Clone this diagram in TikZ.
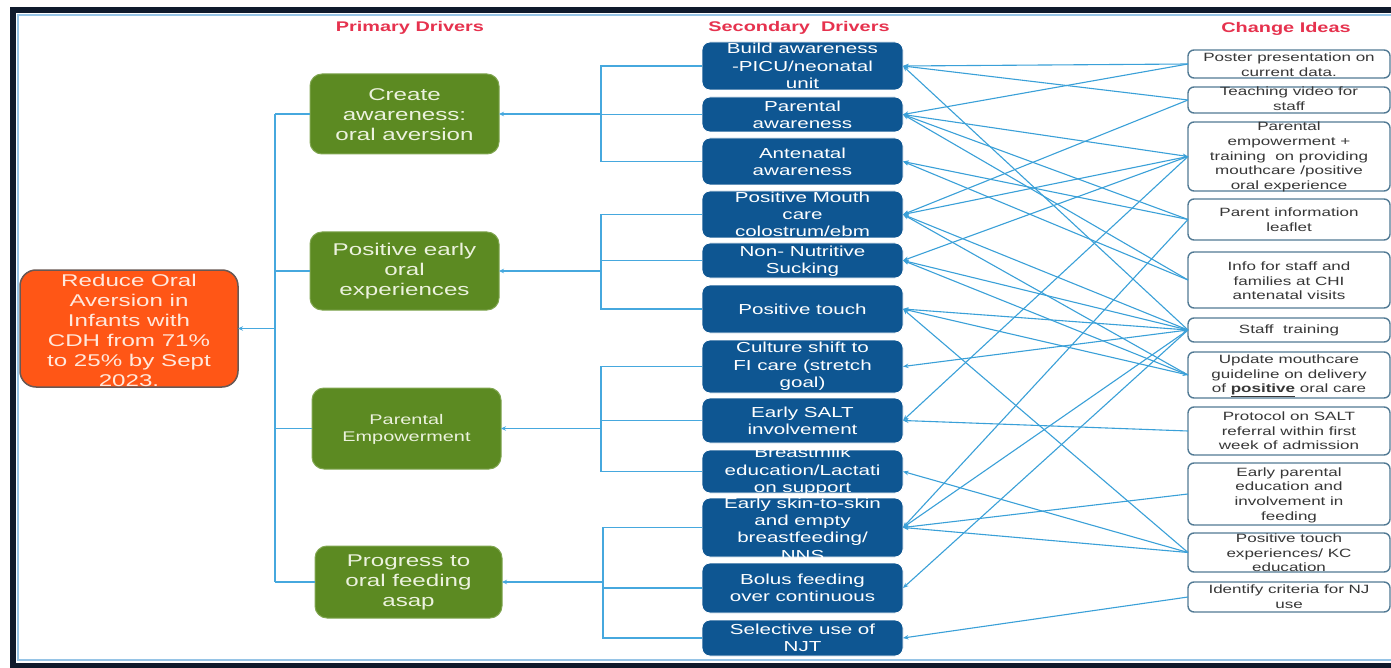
\documentclass[tikz,border=0pt]{standalone}
\usepackage{fontspec}
\setmainfont{Liberation Sans}[FakeStretch=1.42]
\usetikzlibrary{arrows.meta}
\definecolor{lnk}{RGB}{58,160,216}
\definecolor{busc}{RGB}{70,168,222}
\definecolor{secfill}{RGB}{14,86,146}
\definecolor{prifill}{RGB}{92,138,34}
\definecolor{priline}{RGB}{128,166,80}
\definecolor{goalfill}{RGB}{255,86,22}
\definecolor{goalline}{RGB}{105,88,84}
\definecolor{chgline}{RGB}{82,122,148}
\definecolor{chgtext}{RGB}{55,55,55}
\definecolor{hdr}{RGB}{230,50,78}
\definecolor{framec}{RGB}{15,26,44}
\definecolor{framein}{RGB}{150,196,230}
\definecolor{pritext}{RGB}{236,242,222}
\definecolor{goaltext}{RGB}{255,232,220}
\tikzset{
  goalbox/.style={draw=goalline, fill=goalfill, line width=1.5pt, rounded corners=16pt, inner sep=0pt, outer sep=0pt},
  pribox/.style={draw=priline, fill=prifill, line width=1pt, rounded corners=12pt, inner sep=0pt, outer sep=0pt},
  secbox/.style={draw=white, fill=secfill, line width=0.8pt, rounded corners=8pt, inner sep=0pt, outer sep=0pt, minimum width=201pt},
  chgbox/.style={draw=chgline, fill=white, line width=1.4pt, rounded corners=6pt, inner sep=0pt, outer sep=0pt, minimum width=202pt},
  goaltxt/.style={align=center, inner sep=0pt, text=goaltext, font=\fontsize{17}{20}\selectfont},
  pritxt/.style={align=center, inner sep=0pt, text=pritext, font=\fontsize{17}{20}\selectfont},
  sectxt/.style={align=center, inner sep=0pt, text=white, font=\fontsize{14.5}{17.3}\selectfont},
  chgtxt/.style={align=center, inner sep=0pt, text=chgtext, font=\fontsize{12}{14.6}\selectfont},
  hdrtxt/.style={inner sep=0pt, text=hdr, font=\fontsize{14}{16}\selectfont\bfseries},
  bus/.style={draw=busc, line width=1.2pt},
  busarrow/.style={draw=busc, line width=1.2pt, -{Stealth[length=5pt,width=4.5pt]}},
  link/.style={draw=lnk, line width=1.1pt, -{Stealth[length=5.5pt,width=4.5pt]}},
  linkboth/.style={draw=lnk, line width=1.1pt, {Stealth[length=5.5pt,width=4.5pt]}-{Stealth[length=5.5pt,width=4.5pt]}},
}
\begin{document}
\begin{tikzpicture}[x=1pt, y=-1pt]
\useasboundingbox (0,0) rectangle (1391,668);
\fill[white] (0,0) rectangle (1391,668);
% frame
\draw[framein, line width=1.5pt] (1395,15) -- (18,15) -- (18,660) -- (1395,660);
\draw[framec, line width=6pt] (1395,10) -- (13,10) -- (13,666) -- (1395,666);

% headers
\node[hdrtxt] (h1) at (410,28) {Primary Drivers};
\node[hdrtxt] (h2) at (799,28) {Secondary\ \ Drivers};
\node[hdrtxt] (h3) at (1286,29) {Change Ideas};

% goal
\node[goalbox, minimum width=218pt, minimum height=117pt] (goal) at (129,328.5) {};
\node[goaltxt] (goalt) at (129,330) {Reduce Oral\\Aversion in\\Infants with\\CDH from 71\%\\to 25\% by Sept\\2023.};

% primary drivers
\node[pribox, minimum width=189pt, minimum height=80pt] (p1) at (404.5,114) {};
\node[pritxt] (p1t) at (404.5,115) {Create\\awareness:\\oral aversion};
\node[pribox, minimum width=189pt, minimum height=78pt] (p2) at (404.5,271) {};
\node[pritxt] (p2t) at (404.5,271) {Positive early\\oral\\experiences};
\node[pribox, minimum width=189pt, minimum height=81pt] (p3) at (406.5,428.5) {};
\node[pritxt, font=\fontsize{14}{17}\selectfont] (p3t) at (406.5,429) {Parental\\Empowerment};
\node[pribox, minimum width=187pt, minimum height=72pt] (p4) at (408.5,582) {};
\node[pritxt] (p4t) at (408.5,582) {Progress to\\oral feeding\\asap};

% secondary drivers
\node[secbox, minimum height=48pt] (s1) at (802.5,66) {};
\node[sectxt] (s1t) at (802.5,66) {Build awareness\\-PICU/neonatal\\unit};
\node[secbox, minimum height=35pt] (s2) at (802.5,114.5) {};
\node[sectxt] (s2t) at (802.5,114.5) {Parental\\awareness};
\node[secbox, minimum height=47pt] (s3) at (802.5,161.5) {};
\node[sectxt] (s3t) at (802.5,162) {Antenatal\\awareness};
\node[secbox, minimum height=47pt] (s4) at (802.5,214.5) {};
\node[sectxt] (s4t) at (802.5,214.5) {Positive Mouth\\care\\colostrum/ebm};
\node[secbox, minimum height=35pt] (s5) at (802.5,260.5) {};
\node[sectxt] (s5t) at (802.5,261) {Non- Nutritive\\Sucking};
\node[secbox, minimum height=48pt] (s6) at (802.5,309) {};
\node[sectxt] (s6t) at (802.5,309) {Positive touch};
\node[secbox, minimum height=53pt] (s7) at (802.5,366.5) {};
\node[sectxt] (s7t) at (802.5,366.5) {Culture shift to\\FI care (stretch\\goal)};
\node[secbox, minimum height=45pt] (s8) at (802.5,420.5) {};
\node[sectxt] (s8t) at (802.5,420.5) {Early SALT\\involvement};
\node[secbox, minimum height=43pt] (s9) at (802.5,471.5) {};
\node[sectxt] (s9t) at (802.5,471.5) {Breastmilk\\education/Lactati\\on support};
\node[secbox, minimum height=59pt] (s10) at (802.5,527.5) {};
\node[sectxt] (s10t) at (802.5,529) {Early skin-to-skin\\and empty\\breastfeeding/\\NNS};
\node[secbox, minimum height=50pt] (s11) at (802.5,588) {};
\node[sectxt] (s11t) at (802.5,588) {Bolus feeding\\over continuous};
\node[secbox, minimum height=36pt] (s12) at (802.5,638) {};
\node[sectxt] (s12t) at (802.5,638) {Selective use of\\NJT};

% change ideas
\node[chgbox, minimum height=28pt] (c1) at (1289,64) {};
\node[chgtxt] (c1t) at (1289,65) {Poster presentation on\\current data.};
\node[chgbox, minimum height=26pt] (c2) at (1289,100) {};
\node[chgtxt] (c2t) at (1289,99) {Teaching video for\\staff};
\node[chgbox, minimum height=69pt] (c3) at (1289,156.5) {};
\node[chgtxt] (c3t) at (1289,157) {Parental\\empowerment +\\training\ \ on providing\\mouthcare /positive\\oral experience};
\node[chgbox, minimum height=41pt] (c4) at (1289,219.5) {};
\node[chgtxt] (c4t) at (1289,220) {Parent information\\leaflet};
\node[chgbox, minimum height=56pt] (c5) at (1289,280) {};
\node[chgtxt] (c5t) at (1289,281) {Info for staff and\\families at CHI\\antenatal visits};
\node[chgbox, minimum height=24pt] (c6) at (1289,330) {};
\node[chgtxt] (c6t) at (1289,330) {Staff\ \ training};
\node[chgbox, minimum height=46pt] (c7) at (1289,375) {};
\node[chgtxt] (c7t) at (1289,376) {Update mouthcare\\guideline on delivery\\of \underline{\textbf{positive}} oral care};
\node[chgbox, minimum height=48pt] (c8) at (1289,431) {};
\node[chgtxt] (c8t) at (1289,431) {Protocol on SALT\\referral within first\\week of admission};
\node[chgbox, minimum height=62pt] (c9) at (1289,494) {};
\node[chgtxt] (c9t) at (1289,495) {Early parental\\education and\\involvement in\\feeding};
\node[chgbox, minimum height=39pt] (c10) at (1289,552.5) {};
\node[chgtxt] (c10t) at (1289,553) {Positive touch\\experiences/ KC\\education};
\node[chgbox, minimum height=30pt] (c11) at (1289,597) {};
\node[chgtxt] (c11t) at (1289,597) {Identify criteria for NJ\\use};

% primary -> goal
\coordinate (t1) at (275,114);
\coordinate (t2) at (275,271);
\coordinate (t3) at (275,428.5);
\coordinate (t4) at (275,582);
\coordinate (tg) at (275,328.5);
\draw[bus] (t1) -- (t4);
\draw[bus] (t1) -- (p1.west);
\draw[bus] (t2) -- (p2.west);
\draw[bus] (t3) -- (p3.west);
\draw[bus] (t4) -- (p4.west);
\draw[busarrow] (tg) -- (goal.east);

% secondary -> primary
\coordinate (b1) at (601,114);
\coordinate (b2) at (601,271);
\coordinate (b3) at (601,428.5);
\coordinate (b4) at (603,582);
\draw[bus] (s1.west) -| (b1) |- (s3.west);
\draw[bus] (s2.west) -- (s2.west -| b1);
\draw[busarrow] (b1) -- (p1.east);
\draw[bus] (s4.west) -| (b2) |- (s6.west);
\draw[bus] (s5.west) -- (s5.west -| b2);
\draw[busarrow] (b2) -- (p2.east);
\draw[bus] (s7.west) -| (b3) |- (s9.west);
\draw[bus] (s8.west) -- (s8.west -| b3);
\draw[busarrow] (b3) -- (p3.east);
\draw[bus] (s10.west) -| (b4) |- (s12.west);
\draw[bus] (s11.west) -- (s11.west -| b4);
\draw[busarrow] (b4) -- (p4.east);

% change ideas -> secondary drivers
\foreach \c/\s in {c1/s1, c1/s2, c2/s1, c2/s4, c3/s4, c3/s5, c3/s8,
  c4/s2, c4/s3, c4/s10, c5/s2, c5/s3, c6/s1, c6/s4, c6/s5, c6/s6,
  c6/s10, c6/s11, c7/s4, c7/s5, c8/s8, c9/s10, c10/s6, c10/s9,
  c10/s10, c11/s12}
  \draw[link] (\c.west) -- (\s.east);
\draw[linkboth] (c3.west) -- (s2.east);
\draw[linkboth] (c6.west) -- (s7.east);
\draw[linkboth] (c7.west) -- (s6.east);
\end{tikzpicture}
\end{document}
